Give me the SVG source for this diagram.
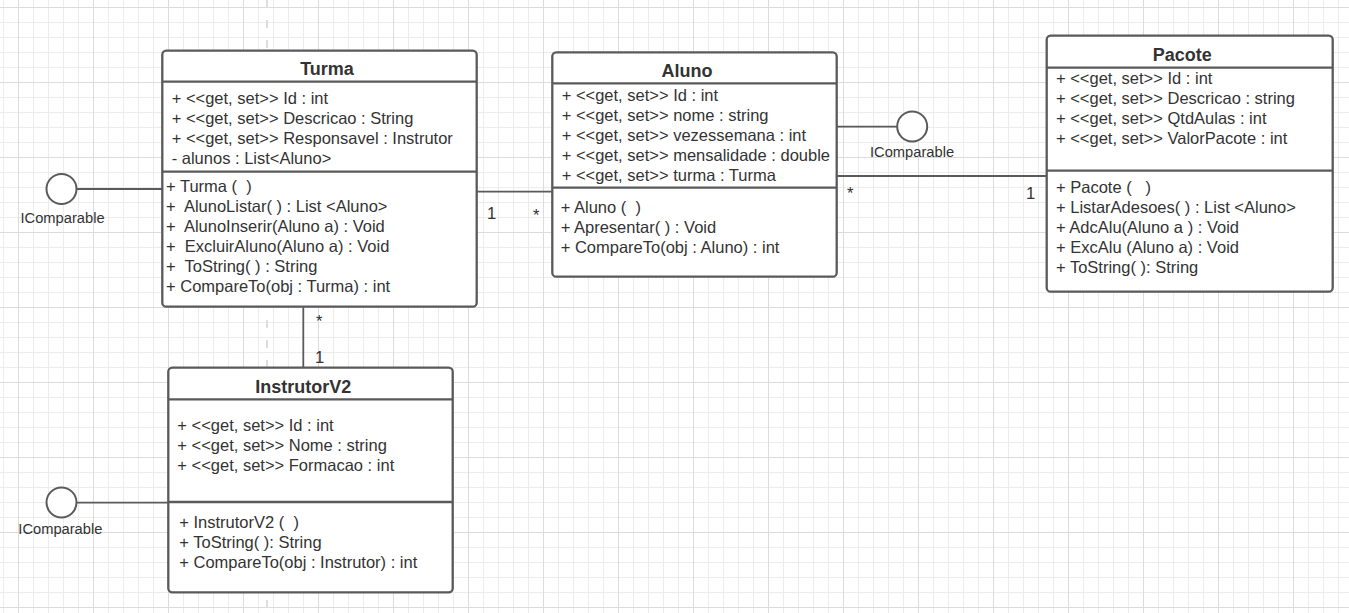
<svg xmlns="http://www.w3.org/2000/svg" width="1349" height="613" viewBox="0 0 1349 613">
<defs>
<pattern id="minor" patternUnits="userSpaceOnUse" x="3" y="7" width="15" height="15">
<path d="M0.5 0V15M0 0.5H15" stroke="#ececec" stroke-width="1" fill="none"/>
</pattern>
<pattern id="major" patternUnits="userSpaceOnUse" x="18" y="7" width="75" height="75">
<path d="M0.5 0V75M0 0.5H75" stroke="#dcdcdc" stroke-width="1" fill="none"/>
</pattern>
<style>
.box{fill:#fff;stroke:#5a5a5a;stroke-width:2.3}
.sep{stroke:#5a5a5a;stroke-width:2.3}
.title{font-family:"Liberation Sans",Arial,sans-serif;font-size:18px;font-weight:bold;fill:#333;text-anchor:middle}
.t{font-family:"Liberation Sans",Arial,sans-serif;font-size:16.5px;fill:#333;white-space:pre}
.lbl{font-family:"Liberation Sans",Arial,sans-serif;font-size:14.7px;fill:#333}
.con{stroke:#5a5a5a;stroke-width:1.8;fill:none}
.lol{stroke:#5a5a5a;stroke-width:2;fill:#fff}
</style>
</defs>
<rect width="1349" height="613" fill="#fff"/>
<rect width="1349" height="613" fill="url(#minor)"/>
<rect width="1349" height="613" fill="url(#major)"/>
<line x1="267" y1="0" x2="267" y2="613" stroke="#dedede" stroke-width="2" stroke-dasharray="8,12"/>

<g id="connectors">
<line class="con" x1="476.7" y1="191.7" x2="552.3" y2="191.7"/>
<line class="con" x1="836.7" y1="176" x2="1046.7" y2="176"/>
<line class="con" x1="303.3" y1="306.7" x2="303.3" y2="367.7"/>
<line class="con" x1="77" y1="189" x2="162.3" y2="189"/>
<line class="con" x1="77" y1="502.7" x2="168.3" y2="502.7"/>
<line class="con" x1="836.7" y1="126.7" x2="897" y2="126.7"/>
<text class="t" x="487" y="219">1</text>
<text class="t" x="533" y="221">*</text>
<text class="t" x="847" y="199">*</text>
<text class="t" x="1026" y="199">1</text>
<text class="t" x="316" y="327">*</text>
<text class="t" x="315" y="363">1</text>
</g>

<g id="icomparable-turma">
<circle class="lol" cx="61.5" cy="189" r="15"/>
<text class="lbl" x="20.5" y="222.7">IComparable</text>
</g>
<g id="icomparable-instrutor">
<circle class="lol" cx="61.5" cy="502.5" r="15"/>
<text class="lbl" x="18.3" y="534.3">IComparable</text>
</g>
<g id="icomparable-aluno">
<circle class="lol" cx="912.2" cy="126.5" r="15"/>
<text class="lbl" x="870" y="156.7">IComparable</text>
</g>

<g id="turma">
<rect class="box" x="162.3" y="50.7" width="314.4" height="256" rx="4"/>
<line class="sep" x1="162.3" y1="81.7" x2="476.7" y2="81.7"/>
<line class="sep" x1="162.3" y1="171.7" x2="476.7" y2="171.7"/>
<text class="title" x="327" y="75">Turma</text>
<text class="t" x="171.7" y="104.3">+ &lt;&lt;get, set&gt;&gt; Id : int</text>
<text class="t" x="171.7" y="124.3">+ &lt;&lt;get, set&gt;&gt; Descricao : String</text>
<text class="t" x="171.7" y="144.3">+ &lt;&lt;get, set&gt;&gt; Responsavel : Instrutor</text>
<text class="t" x="171.7" y="164.3">- alunos : List&lt;Aluno&gt;</text>
<text class="t" x="166" y="191.7">+ Turma (  )</text>
<text class="t" x="166" y="211.7">+  AlunoListar( ) : List &lt;Aluno&gt;</text>
<text class="t" x="166" y="231.7">+  AlunoInserir(Aluno a) : Void</text>
<text class="t" x="166" y="251.7">+  ExcluirAluno(Aluno a) : Void</text>
<text class="t" x="166" y="271.7">+  ToString( ) : String</text>
<text class="t" x="166" y="291.7">+ CompareTo(obj : Turma) : int</text>
</g>

<g id="aluno">
<rect class="box" x="552.3" y="52.3" width="284.4" height="224.4" rx="4"/>
<line class="sep" x1="552.3" y1="83.3" x2="836.7" y2="83.3"/>
<line class="sep" x1="552.3" y1="187.7" x2="836.7" y2="187.7"/>
<text class="title" x="687" y="77.3">Aluno</text>
<text class="t" x="561.7" y="101">+ &lt;&lt;get, set&gt;&gt; Id : int</text>
<text class="t" x="561.7" y="121">+ &lt;&lt;get, set&gt;&gt; nome : string</text>
<text class="t" x="561.7" y="141">+ &lt;&lt;get, set&gt;&gt; vezessemana : int</text>
<text class="t" x="561.7" y="161">+ &lt;&lt;get, set&gt;&gt; mensalidade : double</text>
<text class="t" x="561.7" y="181">+ &lt;&lt;get, set&gt;&gt; turma : Turma</text>
<text class="t" x="560.7" y="213.3">+ Aluno (  )</text>
<text class="t" x="560.7" y="233.3">+ Apresentar( ) : Void</text>
<text class="t" x="560.7" y="253.3">+ CompareTo(obj : Aluno) : int</text>
</g>

<g id="pacote">
<rect class="box" x="1046.7" y="35.7" width="286" height="256" rx="4"/>
<line class="sep" x1="1046.7" y1="67.7" x2="1332.7" y2="67.7"/>
<line class="sep" x1="1046.7" y1="170.7" x2="1332.7" y2="170.7"/>
<text class="title" x="1182.2" y="60.7">Pacote</text>
<text class="t" x="1056" y="84">+ &lt;&lt;get, set&gt;&gt; Id : int</text>
<text class="t" x="1056" y="104">+ &lt;&lt;get, set&gt;&gt; Descricao : string</text>
<text class="t" x="1056" y="124">+ &lt;&lt;get, set&gt;&gt; QtdAulas : int</text>
<text class="t" x="1056" y="144">+ &lt;&lt;get, set&gt;&gt; ValorPacote : int</text>
<text class="t" x="1056" y="192.7">+ Pacote (   )</text>
<text class="t" x="1056" y="212.7">+ ListarAdesoes( ) : List &lt;Aluno&gt;</text>
<text class="t" x="1056" y="232.7">+ AdcAlu(Aluno a ) : Void</text>
<text class="t" x="1056" y="252.7">+ ExcAlu (Aluno a) : Void</text>
<text class="t" x="1056" y="272.7">+ ToString( ): String</text>
</g>

<g id="instrutorv2">
<rect class="box" x="168.3" y="367.7" width="284.4" height="224.6" rx="4"/>
<line class="sep" x1="168.3" y1="399.3" x2="452.7" y2="399.3"/>
<line class="sep" x1="168.3" y1="502" x2="452.7" y2="502"/>
<text class="title" x="303.3" y="392.7">InstrutorV2</text>
<text class="t" x="177.3" y="431">+ &lt;&lt;get, set&gt;&gt; Id : int</text>
<text class="t" x="177.3" y="451">+ &lt;&lt;get, set&gt;&gt; Nome : string</text>
<text class="t" x="177.3" y="471">+ &lt;&lt;get, set&gt;&gt; Formacao : int</text>
<text class="t" x="179.3" y="528.3">+ InstrutorV2 (  )</text>
<text class="t" x="179.3" y="548.3">+ ToString( ): String</text>
<text class="t" x="179.3" y="568.3">+ CompareTo(obj : Instrutor) : int</text>
</g>
</svg>
